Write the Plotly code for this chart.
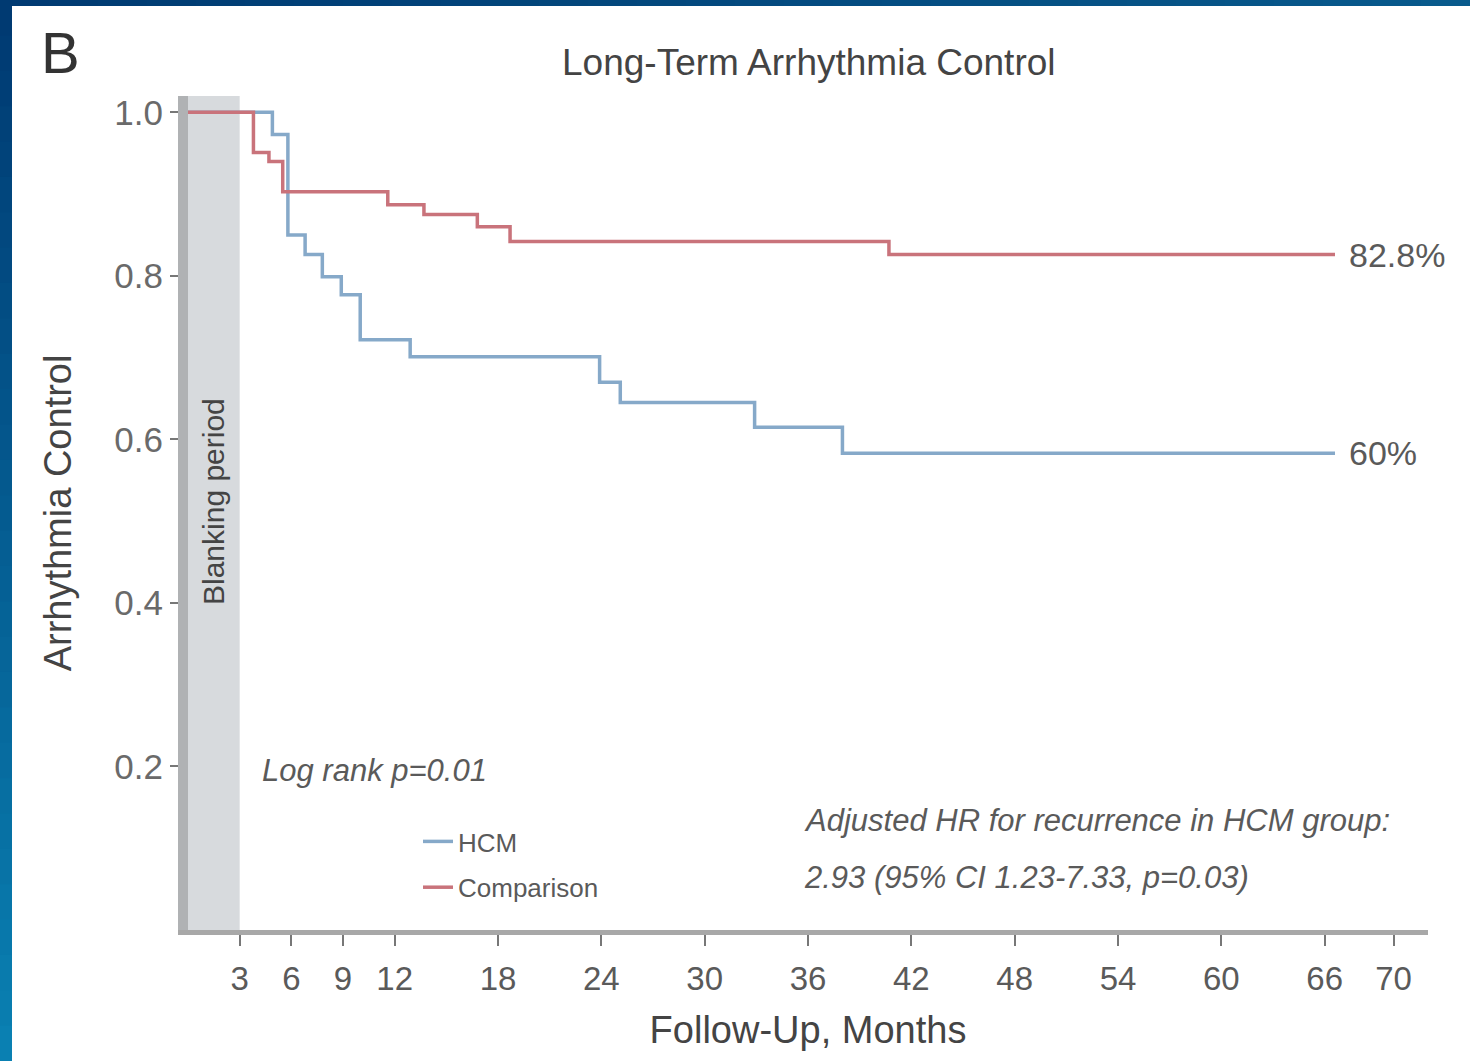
import plotly.graph_objects as go

# ---- data ----
hcm_months = [0, 4.9, 5.8, 6.8, 7.8, 8.9, 10.0, 12.9, 23.9, 25.1, 32.9, 38.0, 66.6]
hcm_surv = [1.0, 0.973, 0.85, 0.826, 0.799, 0.777, 0.722, 0.701, 0.67, 0.645, 0.615, 0.583, 0.583]
comp_months = [0, 3.8, 4.7, 5.5, 11.6, 13.7, 16.8, 18.7, 40.7, 66.6]
comp_surv = [1.0, 0.951, 0.94, 0.903, 0.887, 0.875, 0.86, 0.842, 0.826, 0.826]
x_ticks = [3, 6, 9, 12, 18, 24, 30, 36, 42, 48, 54, 60, 66, 70]
y_ticks = [0.2, 0.4, 0.6, 0.8, 1.0]
y_ticklabels = ["0.2", "0.4", "0.6", "0.8", "1.0"]
blanking_end = 3
end_labels = ["82.8%", "60%"]

FONT = "Liberation Sans, Arial, sans-serif"
GRAY = "#5a5a5a"
BLUE = "#86a9c9"
RED = "#c9737b"

W, H = 1470, 1061
L, R, T, B = 188, 42, 96, 131
PW, PH = W - L - R, H - T - B


def px_x(px):
    return (px - L) / PW


def px_y(py):
    return (H - B - py) / PH


fig = go.Figure()
fig.add_trace(go.Scatter(x=hcm_months, y=hcm_surv, mode="lines", line_shape="hv",
                         line=dict(color=BLUE, width=3.5), name="HCM", legendgroup="a"))
fig.add_trace(go.Scatter(x=comp_months, y=comp_surv, mode="lines", line_shape="hv",
                         line=dict(color=RED, width=3.5), name="Comparison", legendgroup="b"))

shapes = []
# blue frame (gradient strips, overlapping to avoid seams)
n = 30
c0 = (0, 58, 114)
c1 = (10, 128, 178)
for i in range(n):
    f = i / (n - 1)
    col = "rgb(%d,%d,%d)" % tuple(int(c0[k] + (c1[k] - c0[k]) * f) for k in range(3))
    y0 = px_y(min(H, H * (i + 1) / n + 3))
    y1 = px_y(H * i / n)
    shapes.append(dict(type="rect", xref="paper", yref="paper", x0=px_x(0), x1=px_x(12),
                       y0=y0, y1=y1, fillcolor=col, line_width=0, layer="above"))
ct = (0, 58, 114)
ct2 = (8, 90, 140)
for i in range(n):
    f = i / (n - 1)
    col = "rgb(%d,%d,%d)" % tuple(int(ct[k] + (ct2[k] - ct[k]) * f) for k in range(3))
    shapes.append(dict(type="rect", xref="paper", yref="paper", x0=px_x(W * i / n),
                       x1=px_x(min(W, W * (i + 1) / n + 3)),
                       y0=px_y(6), y1=px_y(0), fillcolor=col, line_width=0, layer="above"))
# blanking period band
shapes.append(dict(type="rect", xref="x", yref="paper", x0=0, x1=blanking_end, y0=0, y1=1,
                   fillcolor="#d7dadd", line_width=0, layer="below"))


def ann(text, x, y, size, color=GRAY, xanchor="center", **kw):
    return dict(text=text, x=px_x(x), y=px_y(y), xref="paper", yref="paper", showarrow=False,
                xanchor=xanchor, yanchor="middle", font=dict(family=FONT, size=size, color=color), **kw)


annotations = [
    ann("B", 60, 52, 58, "#333333"),
    ann("Long-Term Arrhythmia Control", 809, 62, 37, "#444444"),
    ann("Blanking period", 213, 502, 30, "#444444", textangle=-90),
    ann("<i>Log rank p=0.01</i>", 260, 770, 31, xanchor="left"),
    ann("<i>Adjusted HR for recurrence in HCM group:</i>", 802, 820, 31, xanchor="left"),
    ann("<i>2.93 (95% CI 1.23-7.33, p=0.03)</i>", 802, 877, 31, xanchor="left"),
    dict(text=end_labels[0], x=comp_months[-1], y=comp_surv[-1], xref="x", yref="y", xanchor="left",
         yanchor="middle", xshift=12, showarrow=False, font=dict(family=FONT, size=34, color=GRAY)),
    dict(text=end_labels[1], x=hcm_months[-1], y=hcm_surv[-1], xref="x", yref="y", xanchor="left",
         yanchor="middle", xshift=12, showarrow=False, font=dict(family=FONT, size=34, color=GRAY)),
]

fig.update_layout(
    width=W, height=H,
    margin=dict(l=L, r=R, t=T, b=B),
    paper_bgcolor="white", plot_bgcolor="white",
    shapes=shapes, annotations=annotations,
    showlegend=True,
    legend=dict(x=px_x(418), y=px_y(818), xanchor="left", yanchor="top", bgcolor="rgba(0,0,0,0)",
                font=dict(family=FONT, size=26, color=GRAY), tracegroupgap=9),
    xaxis=dict(range=[0, 72], tickmode="array", tickvals=x_ticks, ticktext=[str(v) for v in x_ticks],
               showgrid=False, zeroline=False, showline=True, linecolor="#a8a8a8", linewidth=5,
               ticks="outside", ticklen=11, tickwidth=2, tickcolor="#777777", ticklabelstandoff=4,
               tickfont=dict(family=FONT, size=33, color=GRAY),
               title=dict(text="Follow-Up, Months", font=dict(family=FONT, size=38, color="#444444"),
                          standoff=22)),
    yaxis=dict(range=[0, 1.02], tickmode="array", tickvals=y_ticks, ticktext=y_ticklabels,
               showgrid=False, zeroline=False, showline=True, linecolor="#b0b2b4", linewidth=10,
               ticks="outside", ticklen=8, tickwidth=2, tickcolor="#777777",
               tickfont=dict(family=FONT, size=35, color="#6a6a6a"),
               title=dict(text="Arrhythmia Control", font=dict(family=FONT, size=38, color="#444444"),
                          standoff=35)),
)

fig.write_html("out.html")
